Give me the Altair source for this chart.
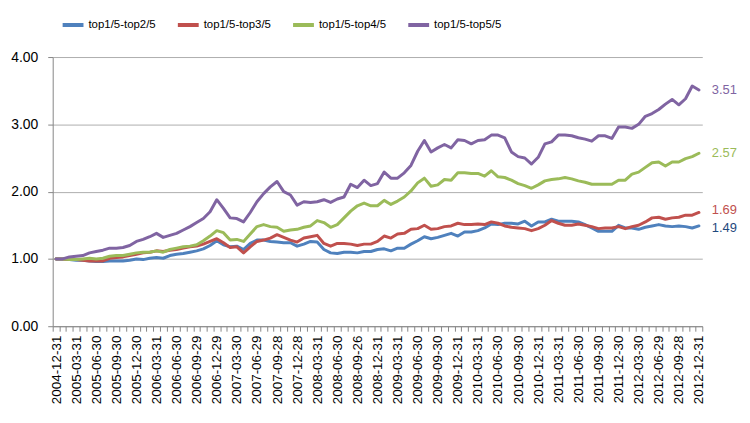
import altair as alt
import pandas as pd
import calendar
import datetime

FONT = "Liberation Sans"

series_names = ["top1/5-top2/5", "top1/5-top3/5", "top1/5-top4/5", "top1/5-top5/5"]
line_colors = ["#4F81BD", "#C0504D", "#9BBB59", "#8064A2"]
label_colors = ["#1F497D", "#C0504D", "#9BBB59", "#8064A2"]
label_nudges = [2, -2, 0, 0]

quarter_labels = [
    "2004-12-31", "2005-03-31", "2005-06-30", "2005-09-30", "2005-12-30",
    "2006-03-31", "2006-06-30", "2006-09-29", "2006-12-29", "2007-03-30",
    "2007-06-29", "2007-09-28", "2007-12-28", "2008-03-31", "2008-06-30",
    "2008-09-26", "2008-12-31", "2009-03-31", "2009-06-30", "2009-09-30",
    "2009-12-31", "2010-03-31", "2010-06-30", "2010-09-30", "2010-12-31",
    "2011-03-31", "2011-06-30", "2011-09-30", "2011-12-30", "2012-03-30",
    "2012-06-29", "2012-09-28", "2012-12-31",
]

top2 = [1.00, 1.00, 0.99, 0.98, 0.98, 0.97, 0.96, 0.96, 0.97, 0.97,
        0.97, 0.98, 1.00, 0.99, 1.01, 1.02, 1.01, 1.05, 1.07, 1.08,
        1.10, 1.12, 1.15, 1.20, 1.27, 1.21, 1.18, 1.19, 1.14, 1.23,
        1.28, 1.28, 1.26, 1.25, 1.24, 1.24, 1.19, 1.22, 1.26, 1.25,
        1.14, 1.09, 1.08, 1.10, 1.10, 1.09, 1.11, 1.11, 1.14, 1.15,
        1.12, 1.16, 1.16, 1.22, 1.27, 1.33, 1.30, 1.32, 1.35, 1.38,
        1.34, 1.40, 1.40, 1.42, 1.46, 1.52, 1.51, 1.53, 1.53, 1.52,
        1.56, 1.49, 1.55, 1.55, 1.59, 1.56, 1.56, 1.56, 1.55, 1.51,
        1.46, 1.41, 1.41, 1.41, 1.50, 1.46, 1.46, 1.44, 1.47, 1.49,
        1.51, 1.49, 1.48, 1.49, 1.48, 1.46, 1.49]

top3 = [1.00, 1.00, 0.99, 0.99, 0.98, 0.97, 0.97, 0.97, 1.01, 1.02,
        1.03, 1.05, 1.07, 1.09, 1.10, 1.12, 1.11, 1.13, 1.14, 1.16,
        1.18, 1.19, 1.22, 1.26, 1.30, 1.24, 1.17, 1.18, 1.09, 1.18,
        1.26, 1.28, 1.31, 1.36, 1.32, 1.28, 1.25, 1.31, 1.33, 1.35,
        1.23, 1.19, 1.23, 1.23, 1.22, 1.20, 1.22, 1.22, 1.26, 1.34,
        1.31, 1.37, 1.38, 1.44, 1.45, 1.50, 1.44, 1.45, 1.48, 1.49,
        1.53, 1.51, 1.51, 1.52, 1.51, 1.55, 1.53, 1.49, 1.47, 1.46,
        1.45, 1.42, 1.45, 1.50, 1.57, 1.53, 1.50, 1.50, 1.52, 1.50,
        1.48, 1.45, 1.46, 1.46, 1.48, 1.45, 1.48, 1.50, 1.55, 1.61,
        1.62, 1.59, 1.61, 1.62, 1.65, 1.65, 1.69]

top4 = [1.00, 1.00, 0.99, 0.99, 1.00, 1.01, 1.00, 1.01, 1.04, 1.05,
        1.05, 1.07, 1.09, 1.10, 1.10, 1.12, 1.10, 1.14, 1.16, 1.18,
        1.19, 1.21, 1.27, 1.34, 1.42, 1.39, 1.28, 1.29, 1.26, 1.37,
        1.48, 1.51, 1.48, 1.47, 1.41, 1.43, 1.44, 1.47, 1.49, 1.57,
        1.54, 1.47, 1.51, 1.61, 1.71, 1.79, 1.83, 1.79, 1.79, 1.87,
        1.81, 1.86, 1.92, 2.01, 2.13, 2.20, 2.08, 2.10, 2.18, 2.17,
        2.28, 2.28, 2.27, 2.27, 2.23, 2.31, 2.22, 2.21, 2.17, 2.12,
        2.09, 2.05, 2.10, 2.16, 2.18, 2.19, 2.21, 2.19, 2.16, 2.14,
        2.11, 2.11, 2.11, 2.11, 2.17, 2.17, 2.26, 2.29, 2.36, 2.43,
        2.44, 2.38, 2.44, 2.44, 2.49, 2.52, 2.57]

top5 = [1.00, 1.00, 1.03, 1.04, 1.05, 1.09, 1.11, 1.13, 1.16, 1.16,
        1.17, 1.20, 1.26, 1.29, 1.33, 1.38, 1.32, 1.35, 1.38, 1.43,
        1.48, 1.54, 1.60, 1.70, 1.88, 1.75, 1.61, 1.60, 1.55, 1.69,
        1.85, 1.97, 2.07, 2.15, 2.00, 1.95, 1.80, 1.85, 1.84, 1.85,
        1.88, 1.84, 1.89, 1.92, 2.11, 2.06, 2.17, 2.09, 2.12, 2.29,
        2.20, 2.20, 2.28, 2.39, 2.60, 2.76, 2.59, 2.65, 2.70, 2.65,
        2.77, 2.76, 2.71, 2.76, 2.77, 2.84, 2.84, 2.80, 2.59, 2.52,
        2.50, 2.41, 2.51, 2.71, 2.74, 2.84, 2.84, 2.83, 2.80, 2.78,
        2.75, 2.83, 2.83, 2.79, 2.96, 2.96, 2.94, 3.00, 3.12, 3.16,
        3.22, 3.30, 3.37, 3.29, 3.38, 3.57, 3.51]

y_ticks = [0, 0.5, 1.0, 1.5, 2.0, 2.5, 3.0, 3.5, 4.0]


def month_end_bday(y, m):
    d = datetime.date(y, m, calendar.monthrange(y, m)[1])
    while d.weekday() >= 5:
        d -= datetime.timedelta(days=1)
    return d.isoformat()


dates = []
yy, mm = 2004, 12
for _ in range(len(top2)):
    dates.append(month_end_bday(yy, mm))
    mm += 1
    if mm > 12:
        mm = 1
        yy += 1
for j, q in enumerate(quarter_labels):
    dates[3 * j] = q

rows = []
for name, vals in zip(series_names, [top2, top3, top4, top5]):
    for d, v in zip(dates, vals):
        rows.append({"date": d, "series": name, "value": v})
df = pd.DataFrame(rows)
last_df = df[df["date"] == dates[-1]]

x_enc = alt.X(
    "date:O",
    sort=dates,
    bandPosition=0.5,
    scale=alt.Scale(type="band", paddingInner=0, paddingOuter=0),
    axis=alt.Axis(
        title=None,
        labelAngle=-90,
        labelExpr="indexof(['03','06','09','12'], substring(datum.value, 5, 7)) >= 0 ? datum.value : ''",
        labelOverlap=False,
        tickBand="extent",
        ticks=True,
        tickSize=5,
        tickColor="#868686",
        domainColor="#868686",
        labelFont=FONT,
        labelFontSize=13.5,
        labelColor="#000000",
        labelPadding=4,
        grid=False,
    ),
)

y_enc = alt.Y(
    "value:Q",
    scale=alt.Scale(domain=[0, 4], nice=False),
    axis=alt.Axis(
        title=None,
        values=y_ticks,
        format=".2f",
        grid=True,
        gridColor="#ADADAD",
        gridWidth=1,
        tickSize=5,
        tickColor="#868686",
        domainColor="#868686",
        labelFont=FONT,
        labelFontSize=14,
        labelColor="#000000",
        labelPadding=10,
    ),
)

lines = alt.Chart(df).mark_line(strokeWidth=3, strokeJoin="round", strokeCap="round").encode(
    x=x_enc,
    y=y_enc,
    color=alt.Color(
        "series:N",
        sort=series_names,
        scale=alt.Scale(domain=series_names, range=line_colors),
        legend=alt.Legend(
            orient="none",
            legendX=8,
            legendY=-45,
            direction="horizontal",
            title=None,
            symbolType="stroke",
            symbolSize=441,
            symbolStrokeWidth=4,
            labelFont=FONT,
            labelFontSize=11.5,
            labelColor="#000000",
            labelOffset=3,
            columnPadding=14,
            padding=0,
        ),
    ),
)

layers = [lines]
for name, col, nudge in zip(series_names, label_colors, label_nudges):
    layers.append(
        alt.Chart(last_df[last_df["series"] == name]).mark_text(
            align="left", baseline="middle", dx=13, dy=nudge, font=FONT, fontSize=13, color=col
        ).encode(
            x=alt.X("date:O", sort=dates, bandPosition=0.5),
            y=alt.Y("value:Q"),
            text=alt.Text("value:Q", format=".2f"),
        )
    )

chart = (
    alt.layer(*layers)
    .properties(
        width=654,
        height=271,
        autosize=alt.AutoSizeParams(type="none"),
        padding={"left": 45, "top": 48, "right": 40, "bottom": 86},
    )
    .configure_view(stroke=None)
)

chart.save("out.html", embed_options={"renderer": "svg", "actions": False})
